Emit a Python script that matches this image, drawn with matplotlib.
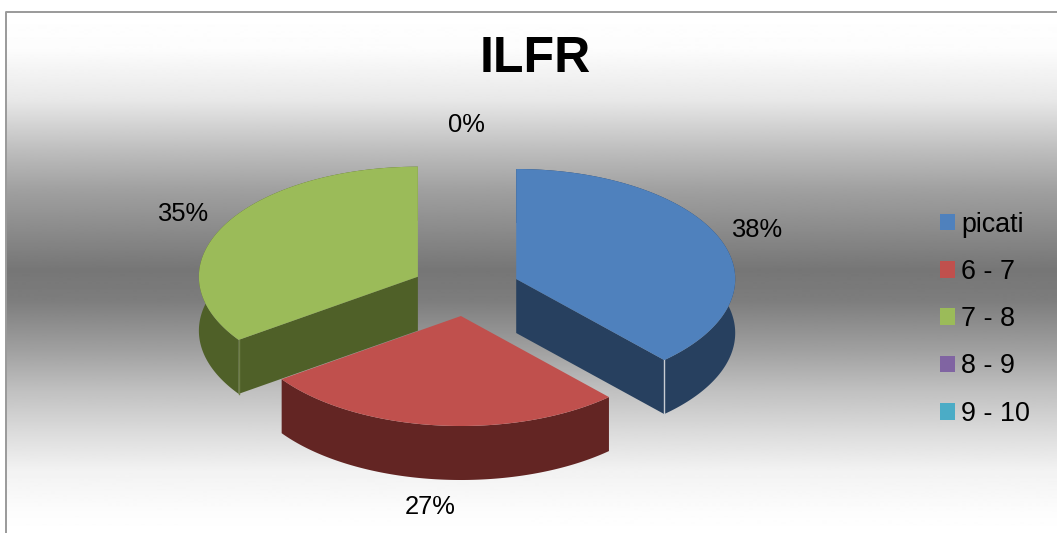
import numpy as np
import matplotlib
matplotlib.use("Agg")
import matplotlib.pyplot as plt
from matplotlib.patches import Patch

plt.rcParams['font.family'] = ['Liberation Sans', 'DejaVu Sans']

title = "ILFR"
categories = ["picati", "6 - 7", "7 - 8", "8 - 9", "9 - 10"]
values = [38, 27, 35, 0, 0]
top_colors = ["#4F81BD", "#C0504D", "#9BBB59", "#8064A2", "#4BACC6"]
side_colors = ["#27405F", "#632523", "#4F6028", "#40315A", "#205867"]
edge_colors = ["#C8CCD2", "#632523", "#6F7F48", "#40315A", "#205867"]
label_xy = {0: (757, 230), 1: (430, 507), 2: (183, 214), 3: (466, 125)}

# pie projection, in figure pixels
CX, CY = 466, 289
A, B = 219, 110
DEPTH = 54
EXPLODE = 54
WARP = 0.025  # slight perspective shift of the angles

fig = plt.figure(figsize=(10.57, 5.33), dpi=100)
ax = fig.add_axes([0, 0, 1, 1])
ax.axis("off")

# chart-area gradient
rows = np.arange(12, 534)
stop_y = [12, 50, 100, 150, 190, 270, 300, 350, 390, 430, 470, 510, 533]
stop_g = [255, 252, 232, 190, 160, 118, 125, 160, 192, 218, 242, 252, 255]
grad = np.interp(rows, stop_y, stop_g)[:, None]
ax.imshow(grad, cmap="gray", vmin=0, vmax=255, aspect="auto",
          extent=(6, 1057, 533, 12), interpolation="bilinear", zorder=0)
ax.plot([6, 6, 1057], [533, 12, 12], color="#9A9A9A", lw=1.4, zorder=1)
ax.set_xlim(0, 1057)
ax.set_ylim(533, 0)


def project(theta, ox, oy):
    t = theta + WARP * np.sin(theta) ** 2
    return ox + A * np.sin(t), oy - B * np.cos(t)


fractions = np.array(values, dtype=float) / sum(values)
starts = np.concatenate([[0], np.cumsum(fractions)[:-1]]) * 2 * np.pi
ends = np.cumsum(fractions) * 2 * np.pi

slices = []
for i, v in enumerate(values):
    if v == 0:
        continue
    mid = (starts[i] + ends[i]) / 2
    ox = CX + EXPLODE * np.sin(mid)
    oy = CY - EXPLODE * B / A * np.cos(mid)
    slices.append((i, ox, oy))

# back-to-front: blue, green, then red in front
for i, ox, oy in sorted(slices, key=lambda s: s[2]):
    th = np.linspace(starts[i], ends[i], 200)
    x, y = project(th, ox, oy)
    # outer wall
    ax.fill(np.r_[x, x[::-1]], np.r_[y, y[::-1] + DEPTH],
            color=side_colors[i], lw=0, zorder=2 + i)
    # visible cut face
    if i != 1:
        cut = ends[i] if i == 0 else starts[i]
        ex, ey = project(cut, ox, oy)
        ax.fill([ox, ex, ex, ox], [oy, ey, ey + DEPTH, oy + DEPTH],
                color=side_colors[i], lw=0, zorder=2 + i)
        ax.plot([ex, ex], [ey, ey + DEPTH], color=edge_colors[i], lw=1.0, zorder=2 + i)
    # top
    ax.fill(np.r_[ox, x], np.r_[oy, y], color=top_colors[i], lw=0, zorder=2 + i)

ax.text(535.5, 59.5, title, fontsize=36, fontweight="bold", ha="center", va="center",
        color="black", zorder=10)

shown_zero = False
for i, v in enumerate(values):
    if v == 0 and shown_zero:
        continue
    shown_zero = shown_zero or v == 0
    lx, ly = label_xy[i]
    ax.text(lx, ly, f"{v}%", fontsize=18.4, ha="center", va="center",
            color="black", zorder=10)

handles = [Patch(facecolor=c, edgecolor="none") for c in top_colors]
leg = ax.legend(handles, categories, loc="upper left",
                bbox_to_anchor=(918 / 1057, 1 - 190 / 533), frameon=False,
                fontsize=19.4, handlelength=0.58, handleheight=0.58,
                handletextpad=0.22, labelspacing=0.79, borderpad=0.3,
                labelcolor="black")
leg.set_zorder(10)

fig.savefig("out.png", dpi=100)
